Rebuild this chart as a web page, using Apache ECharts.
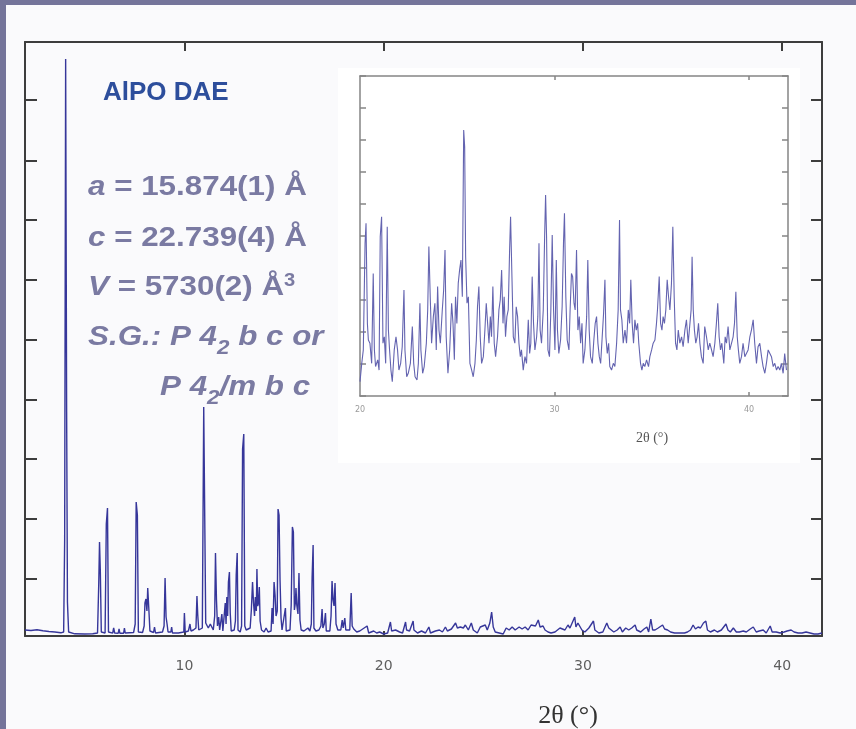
<!DOCTYPE html>
<html>
<head>
<meta charset="utf-8">
<title>AlPO DAE powder pattern</title>
<script src="https://cdn.jsdelivr.net/npm/echarts@6.0.0/dist/echarts.min.js"></script>
<style>
    html, body { margin: 0; padding: 0; background: #fafafc; }
    #main { width: 856px; height: 729px; }
</style>
</head>
<body>
<div id="main"></div>
<script>
// full scan: [2theta (deg), intensity (counts)]
var mainScan = [
    [2.00,60],[2.30,55],[2.60,62],[2.90,52],[3.20,45],[3.50,40],[3.80,32],[3.94,40],[3.99,950],[4.04,5770],[4.09,2240],[4.13,340],[4.19,40],
    [4.50,22],[5.00,20],[5.40,22],[5.64,30],[5.70,510],[5.74,940],[5.78,650],[5.83,40],[6.02,30],[6.08,1120],[6.14,1280],[6.19,40],
    [6.40,28],[6.45,80],[6.50,30],[6.68,28],[6.72,70],[6.76,28],[6.95,28],[6.99,80],[7.03,30],[7.45,35],[7.53,120],[7.58,1340],[7.64,1210],[7.69,40],
    [7.90,35],[7.98,100],[8.02,330],[8.07,370],[8.12,250],[8.16,480],[8.21,290],[8.27,50],[8.45,35],[8.50,90],[8.55,30],
    [8.90,40],[8.98,100],[9.03,580],[9.08,190],[9.13,120],[9.18,40],[9.32,40],[9.36,90],[9.40,30],[9.70,30],[9.97,40],[10.00,230],[10.04,40],
    [10.20,50],[10.28,120],[10.33,50],[10.45,60],[10.58,80],[10.63,400],[10.67,210],[10.72,60],[10.90,80],[10.97,2290],[11.02,2310],[11.07,130],
    [11.12,150],[11.20,80],[11.30,120],[11.45,60],[11.52,200],[11.56,830],[11.61,360],[11.66,100],[11.72,190],[11.77,60],[11.83,70],[11.88,220],[11.93,50],
    [12.00,60],[12.05,330],[12.09,120],[12.13,390],[12.17,200],[12.21,540],[12.26,640],[12.30,230],[12.35,50],[12.50,60],[12.56,150],[12.60,610],[12.65,830],[12.69,60],
    [12.80,40],[12.87,100],[12.92,1870],[12.98,2020],[13.03,100],[13.10,60],[13.20,40],[13.30,80],[13.36,260],[13.42,540],[13.47,330],[13.52,200],
    [13.56,390],[13.61,250],[13.64,670],[13.68,300],[13.72,330],[13.76,490],[13.80,150],[13.87,60],[14.00,40],[14.10,80],[14.20,40],[14.35,50],
    [14.40,280],[14.45,120],[14.50,540],[14.55,410],[14.60,200],[14.66,250],[14.70,1270],[14.75,1210],[14.80,560],[14.85,180],[14.90,60],[15.00,80],[15.07,280],[15.11,50],
    [15.30,60],[15.36,310],[15.42,1090],[15.47,1040],[15.52,260],[15.57,330],[15.60,480],[15.64,310],[15.70,220],[15.75,630],[15.80,160],[15.86,60],
    [16.00,50],[16.20,80],[16.30,50],[16.37,120],[16.41,590],[16.46,910],[16.50,80],[16.60,50],[16.75,60],[16.85,100],[16.91,270],[16.95,80],[17.02,120],[17.08,230],[17.12,50],
    [17.30,50],[17.36,200],[17.41,550],[17.46,360],[17.51,300],[17.56,530],[17.61,120],[17.70,60],[17.85,60],[17.92,160],[17.97,80],[18.05,180],[18.10,60],
    [18.30,60],[18.37,430],[18.42,100],[18.50,70],[18.65,40],[18.80,50],[18.90,30],[19.17,100],[19.25,30],[19.50,50],[19.65,30],[19.80,40],
    [20.00,20],[20.20,30],[20.34,140],[20.40,50],[20.60,60],[20.80,40],[20.95,30],[21.10,140],[21.15,60],[21.30,50],[21.40,70],[21.48,150],[21.52,60],
    [21.70,30],[21.90,50],[22.10,30],[22.27,90],[22.35,30],[22.60,50],[22.80,60],[22.95,40],[23.10,90],[23.20,50],[23.40,70],[23.50,60],[23.61,130],
    [23.70,80],[23.85,90],[24.00,80],[24.10,110],[24.25,60],[24.40,130],[24.50,60],[24.70,30],[24.85,90],[24.95,80],[25.10,110],[25.20,60],[25.33,130],
    [25.42,240],[25.50,90],[25.60,40],[25.80,30],[26.00,20],[26.15,80],[26.30,60],[26.45,90],[26.60,60],[26.80,90],[26.95,70],[27.10,90],[27.25,60],
    [27.40,110],[27.50,90],[27.62,100],[27.76,160],[27.85,90],[28.00,100],[28.10,60],[28.25,40],[28.40,30],[28.60,40],[28.85,80],[28.95,90],[29.10,60],
    [29.25,110],[29.35,80],[29.59,190],[29.65,90],[29.75,130],[29.85,130],[29.95,60],[30.10,40],[30.30,80],[30.53,150],[30.60,60],[30.80,30],[31.00,40],
    [31.20,130],[31.30,80],[31.40,60],[31.55,40],[31.72,60],[31.87,90],[31.98,40],[32.15,80],[32.30,60],[32.45,80],[32.62,110],[32.70,60],[32.90,40],
    [33.07,70],[33.21,90],[33.30,40],[33.41,170],[33.50,60],[33.62,60],[33.78,80],[34.00,110],[34.10,70],[34.25,60],[34.40,40],[34.60,30],[34.75,30],
    [34.90,30],[35.10,30],[35.25,40],[35.40,60],[35.53,110],[35.65,70],[35.78,90],[35.90,80],[36.05,130],[36.17,150],[36.25,60],[36.40,40],[36.60,60],
    [36.75,40],[36.95,60],[37.05,70],[37.18,120],[37.28,60],[37.40,40],[37.55,80],[37.70,40],[37.85,40],[38.05,50],[38.20,40],[38.40,70],[38.55,90],
    [38.70,40],[38.85,50],[39.05,60],[39.20,30],[39.40,100],[39.50,40],[39.70,40],[39.90,30],[40.10,40],[40.25,50],[40.45,60],[40.60,40],[40.80,30],
    [41.00,30],[41.20,40],[41.40,30],[41.60,20],[41.80,20],[42.00,30]
];

// inset, 20-42 deg, intensity in inset units
var insetScan = [
    [20.00,0.45],[20.09,1.02],[20.17,1.44],[20.26,4.77],[20.31,5.40],[20.38,2.27],[20.43,1.75],[20.51,1.65],[20.60,1.02],[20.68,3.83],[20.74,1.44],
    [20.80,0.92],[20.91,1.13],[20.98,0.81],[21.04,4.98],[21.11,5.60],[21.18,1.65],[21.25,1.85],[21.32,1.02],[21.40,5.29],[21.46,2.06],[21.52,1.44],
    [21.59,0.81],[21.66,0.45],[21.76,1.44],[21.85,1.85],[21.93,1.44],[22.00,0.81],[22.09,1.02],[22.17,1.54],[22.26,3.31],[22.31,1.44],[22.40,0.60],
    [22.48,0.71],[22.59,1.02],[22.69,2.17],[22.76,1.02],[22.83,0.60],[22.93,0.50],[23.00,1.02],[23.08,2.90],[23.13,1.44],[23.22,0.71],[23.30,0.92],
    [23.41,1.65],[23.48,2.69],[23.54,4.67],[23.61,3.10],[23.68,1.65],[23.77,2.48],[23.85,2.90],[23.92,1.44],[23.99,3.42],[24.06,2.06],[24.13,1.65],
    [24.23,2.69],[24.30,3.31],[24.37,4.56],[24.43,1.85],[24.52,0.71],[24.61,1.44],[24.71,2.90],[24.78,2.27],[24.85,1.13],[24.91,3.10],[24.98,2.27],
    [25.05,3.52],[25.12,3.94],[25.19,4.25],[25.26,3.10],[25.33,8.31],[25.38,7.79],[25.43,4.35],[25.50,2.90],[25.57,3.10],[25.65,1.02],[25.74,0.81],
    [25.82,0.60],[25.91,1.02],[25.98,1.75],[26.04,2.79],[26.11,3.42],[26.18,1.85],[26.25,1.02],[26.34,1.23],[26.42,2.06],[26.49,2.90],[26.56,2.27],
    [26.63,1.65],[26.70,2.48],[26.76,1.85],[26.83,3.42],[26.90,1.65],[26.97,1.23],[27.07,1.85],[27.14,2.69],[27.21,3.00],[27.28,3.94],[27.35,2.27],
    [27.41,3.10],[27.48,1.85],[27.55,2.48],[27.62,2.69],[27.69,4.56],[27.74,5.60],[27.81,3.73],[27.88,1.85],[27.96,1.65],[28.03,2.79],[28.10,2.48],
    [28.17,1.65],[28.24,1.23],[28.30,1.44],[28.39,0.81],[28.48,1.23],[28.56,1.02],[28.65,2.38],[28.72,1.33],[28.78,1.65],[28.85,3.73],[28.92,2.27],
    [28.99,1.44],[29.08,1.85],[29.14,2.48],[29.20,4.77],[29.26,2.06],[29.33,1.65],[29.42,2.69],[29.49,4.98],[29.54,6.28],[29.59,4.98],[29.66,1.44],
    [29.74,1.23],[29.81,2.69],[29.88,5.03],[29.95,2.69],[30.02,1.44],[30.09,4.25],[30.15,2.06],[30.22,1.33],[30.31,1.75],[30.39,2.79],[30.46,4.77],
    [30.51,5.71],[30.58,3.10],[30.65,1.75],[30.74,1.44],[30.80,2.69],[30.87,3.83],[30.93,3.73],[31.00,2.90],[31.06,2.69],[31.13,4.56],[31.20,2.06],
    [31.27,2.48],[31.34,1.65],[31.41,2.27],[31.47,1.02],[31.56,1.44],[31.65,2.48],[31.71,4.25],[31.78,2.06],[31.85,1.23],[31.94,1.02],[32.02,1.75],
    [32.09,2.27],[32.16,2.48],[32.23,1.65],[32.30,1.23],[32.37,1.02],[32.45,1.85],[32.52,2.58],[32.59,3.63],[32.64,1.85],[32.71,1.33],[32.78,1.65],
    [32.84,0.92],[32.93,0.81],[33.02,1.02],[33.10,0.92],[33.19,1.65],[33.27,2.69],[33.34,5.50],[33.39,2.69],[33.46,2.38],[33.53,1.65],[33.62,2.06],
    [33.70,1.65],[33.79,2.69],[33.86,2.27],[33.92,3.63],[33.99,2.27],[34.06,1.65],[34.13,2.38],[34.20,2.06],[34.27,2.27],[34.33,1.65],[34.42,1.02],
    [34.49,0.81],[34.56,1.02],[34.64,0.92],[34.73,1.13],[34.83,0.92],[34.90,1.23],[34.99,1.44],[35.07,1.65],[35.16,1.75],[35.24,2.27],[35.29,2.69],
    [35.38,3.73],[35.45,2.27],[35.52,2.06],[35.58,2.48],[35.65,2.27],[35.72,2.69],[35.79,3.63],[35.86,3.10],[35.93,2.69],[36.01,3.52],[36.08,5.29],
    [36.15,3.10],[36.22,1.65],[36.29,1.44],[36.36,2.06],[36.44,1.65],[36.53,1.85],[36.61,1.54],[36.70,2.06],[36.78,2.38],[36.87,1.65],[36.95,1.65],
    [37.02,2.69],[37.07,4.35],[37.13,2.69],[37.19,2.06],[37.26,1.65],[37.33,1.85],[37.40,2.27],[37.47,1.65],[37.55,1.23],[37.64,1.02],[37.72,2.17],
    [37.81,1.85],[37.90,1.44],[37.98,1.65],[38.07,1.44],[38.15,1.23],[38.24,1.65],[38.32,2.27],[38.39,2.90],[38.46,1.85],[38.53,1.44],[38.60,1.65],
    [38.70,1.02],[38.77,1.85],[38.84,1.65],[38.92,2.17],[39.01,1.44],[39.09,1.44],[39.18,1.85],[39.25,2.27],[39.32,3.26],[39.39,1.85],[39.45,1.44],
    [39.52,1.02],[39.61,1.23],[39.69,1.65],[39.78,1.23],[39.87,1.23],[39.95,1.44],[40.04,1.85],[40.12,2.06],[40.21,2.38],[40.29,1.65],[40.38,1.02],
    [40.46,1.54],[40.55,1.65],[40.64,1.23],[40.72,0.92],[40.81,0.71],[40.89,1.02],[40.98,1.44],[41.06,1.49],[41.15,1.23],[41.24,0.92],[41.32,1.02],
    [41.41,0.81],[41.49,0.92],[41.58,0.81],[41.66,1.02],[41.75,0.71],[41.83,1.33],[41.92,0.81]
];

var mainXTicks = [10, 20, 30, 40];
var mainYTicks = [570, 1170, 1770, 2360, 2960, 3560, 4160, 4750, 5360];
var insetXLabels = [20, 30, 40];
var insetXTicks = [30, 40];

var chart = echarts.init(document.getElementById('main'), null, { renderer: 'canvas' });

var frameColor = '#3d3d3d';
var insetFrame = '#858585';
var cellColor = '#7a7aa2';

function frameAxis(grid, pos, min, max, ticks, len, color, width) {
    return {
        type: 'value', gridIndex: grid, position: pos, min: min, max: max,
        axisLine: { show: true, onZero: false, lineStyle: { color: color, width: width } },
        axisTick: { show: true, inside: true, length: len, customValues: ticks, lineStyle: { color: color, width: width } },
        axisLabel: { show: false },
        splitLine: { show: false }
    };
}

var xMain = frameAxis(0, 'bottom', 2, 42, mainXTicks, 5, frameColor, 2);
xMain.axisLabel = { show: true, customValues: mainXTicks, margin: 23, color: '#5e5e5e', fontFamily: 'DejaVu Sans', fontSize: 14 };
var xInset = frameAxis(1, 'bottom', 20, 42, insetXTicks, 4, insetFrame, 1.5);
xInset.axisLabel = { show: true, customValues: insetXLabels, margin: 10, color: '#9a9a9a', fontFamily: 'DejaVu Sans', fontSize: 8 };
var yInsetL = frameAxis(1, 'left', 0, 10, null, 6, insetFrame, 1.5);
yInsetL.interval = 1;
delete yInsetL.axisTick.customValues;
var yInsetR = frameAxis(1, 'right', 0, 10, null, 6, insetFrame, 1.5);
yInsetR.interval = 1;
delete yInsetR.axisTick.customValues;

var cellFont = { fontFamily: 'Liberation Sans', fontWeight: 'bold', fill: cellColor };
var cellRich = {
    i: Object.assign({ fontSize: 28, fontStyle: 'italic', lineHeight: 40 }, cellFont),
    n: Object.assign({ fontSize: 28, fontStyle: 'normal', lineHeight: 40 }, cellFont),
    sub: Object.assign({ fontSize: 20, height: 20, fontStyle: 'italic', lineHeight: 40, padding: [22, 0, 0, 0] }, cellFont),
    sup: Object.assign({ fontSize: 18, height: 18, fontStyle: 'normal', lineHeight: 40, padding: [0, 0, 12, 0] }, cellFont)
};

function cellLine(text, x, y) {
    return {
        type: 'text', x: x, y: y, scaleX: 1.12, z: 20,
        style: { text: text, rich: cellRich, verticalAlign: 'middle', align: 'left' }
    };
}

var option = {
    backgroundColor: '#fafafc',
    animation: false,
    grid: [
        { left: 25, right: 34, top: 42, bottom: 93, outerBoundsMode: 'none' },
        { left: 360, right: 68, top: 76, bottom: 333, outerBoundsMode: 'none' }
    ],
    xAxis: [
        xMain,
        frameAxis(0, 'top', 2, 42, mainXTicks, 9, frameColor, 2),
        xInset,
        frameAxis(1, 'top', 20, 42, insetXTicks, 4, insetFrame, 1.5)
    ],
    yAxis: [
        frameAxis(0, 'left', 0, 5940, mainYTicks, 12, frameColor, 2),
        frameAxis(0, 'right', 0, 5940, mainYTicks, 11, frameColor, 2),
        yInsetL,
        yInsetR
    ],
    series: [{
        name: 'AlPO DAE',
        type: 'line',
        xAxisIndex: 0,
        yAxisIndex: 0,
        data: mainScan,
        showSymbol: false,
        silent: true,
        lineStyle: { color: '#36369a', width: 1.4 }
    }, {
        name: 'AlPO DAE 20-42',
        type: 'line',
        xAxisIndex: 2,
        yAxisIndex: 2,
        data: insetScan,
        showSymbol: false,
        silent: true,
        lineStyle: { color: '#6464b0', width: 1.1 }
    }],
    graphic: [
        { type: 'rect', z: -10, shape: { x: 338, y: 68, width: 462, height: 395 }, style: { fill: '#ffffff' } },
        { type: 'rect', z: 100, shape: { x: 0, y: 0, width: 856, height: 5 }, style: { fill: '#74749a' } },
        { type: 'rect', z: 100, shape: { x: 0, y: 0, width: 6, height: 729 }, style: { fill: '#74749a' } },
        {
            type: 'text', x: 103, y: 93, z: 20,
            style: { text: 'AlPO DAE', fill: '#2d4e9c', font: 'bold 26px "Liberation Sans"', verticalAlign: 'middle' }
        },
        cellLine('{i|a}{n| = 15.874(1) Å}', 88, 187),
        cellLine('{i|c}{n| = 22.739(4) Å}', 88, 238),
        cellLine('{i|V}{n| = 5730(2) Å}{sup|3}', 88, 287),
        cellLine('{i|S.G.: P 4}{sub|2}{i| b c or}', 88, 337),
        cellLine('{i|P 4}{sub|2}{i|/m b c}', 160, 387),
        {
            type: 'text', x: 568, y: 716, z: 20,
            style: { text: '2θ (°)', fill: '#333333', font: '26px "Liberation Serif"', align: 'center', verticalAlign: 'middle' }
        },
        {
            type: 'text', x: 652, y: 438, z: 20,
            style: { text: '2θ (°)', fill: '#555555', font: '14px "Liberation Serif"', align: 'center', verticalAlign: 'middle' }
        }
    ]
};

chart.setOption(option);
</script>
</body>
</html>
